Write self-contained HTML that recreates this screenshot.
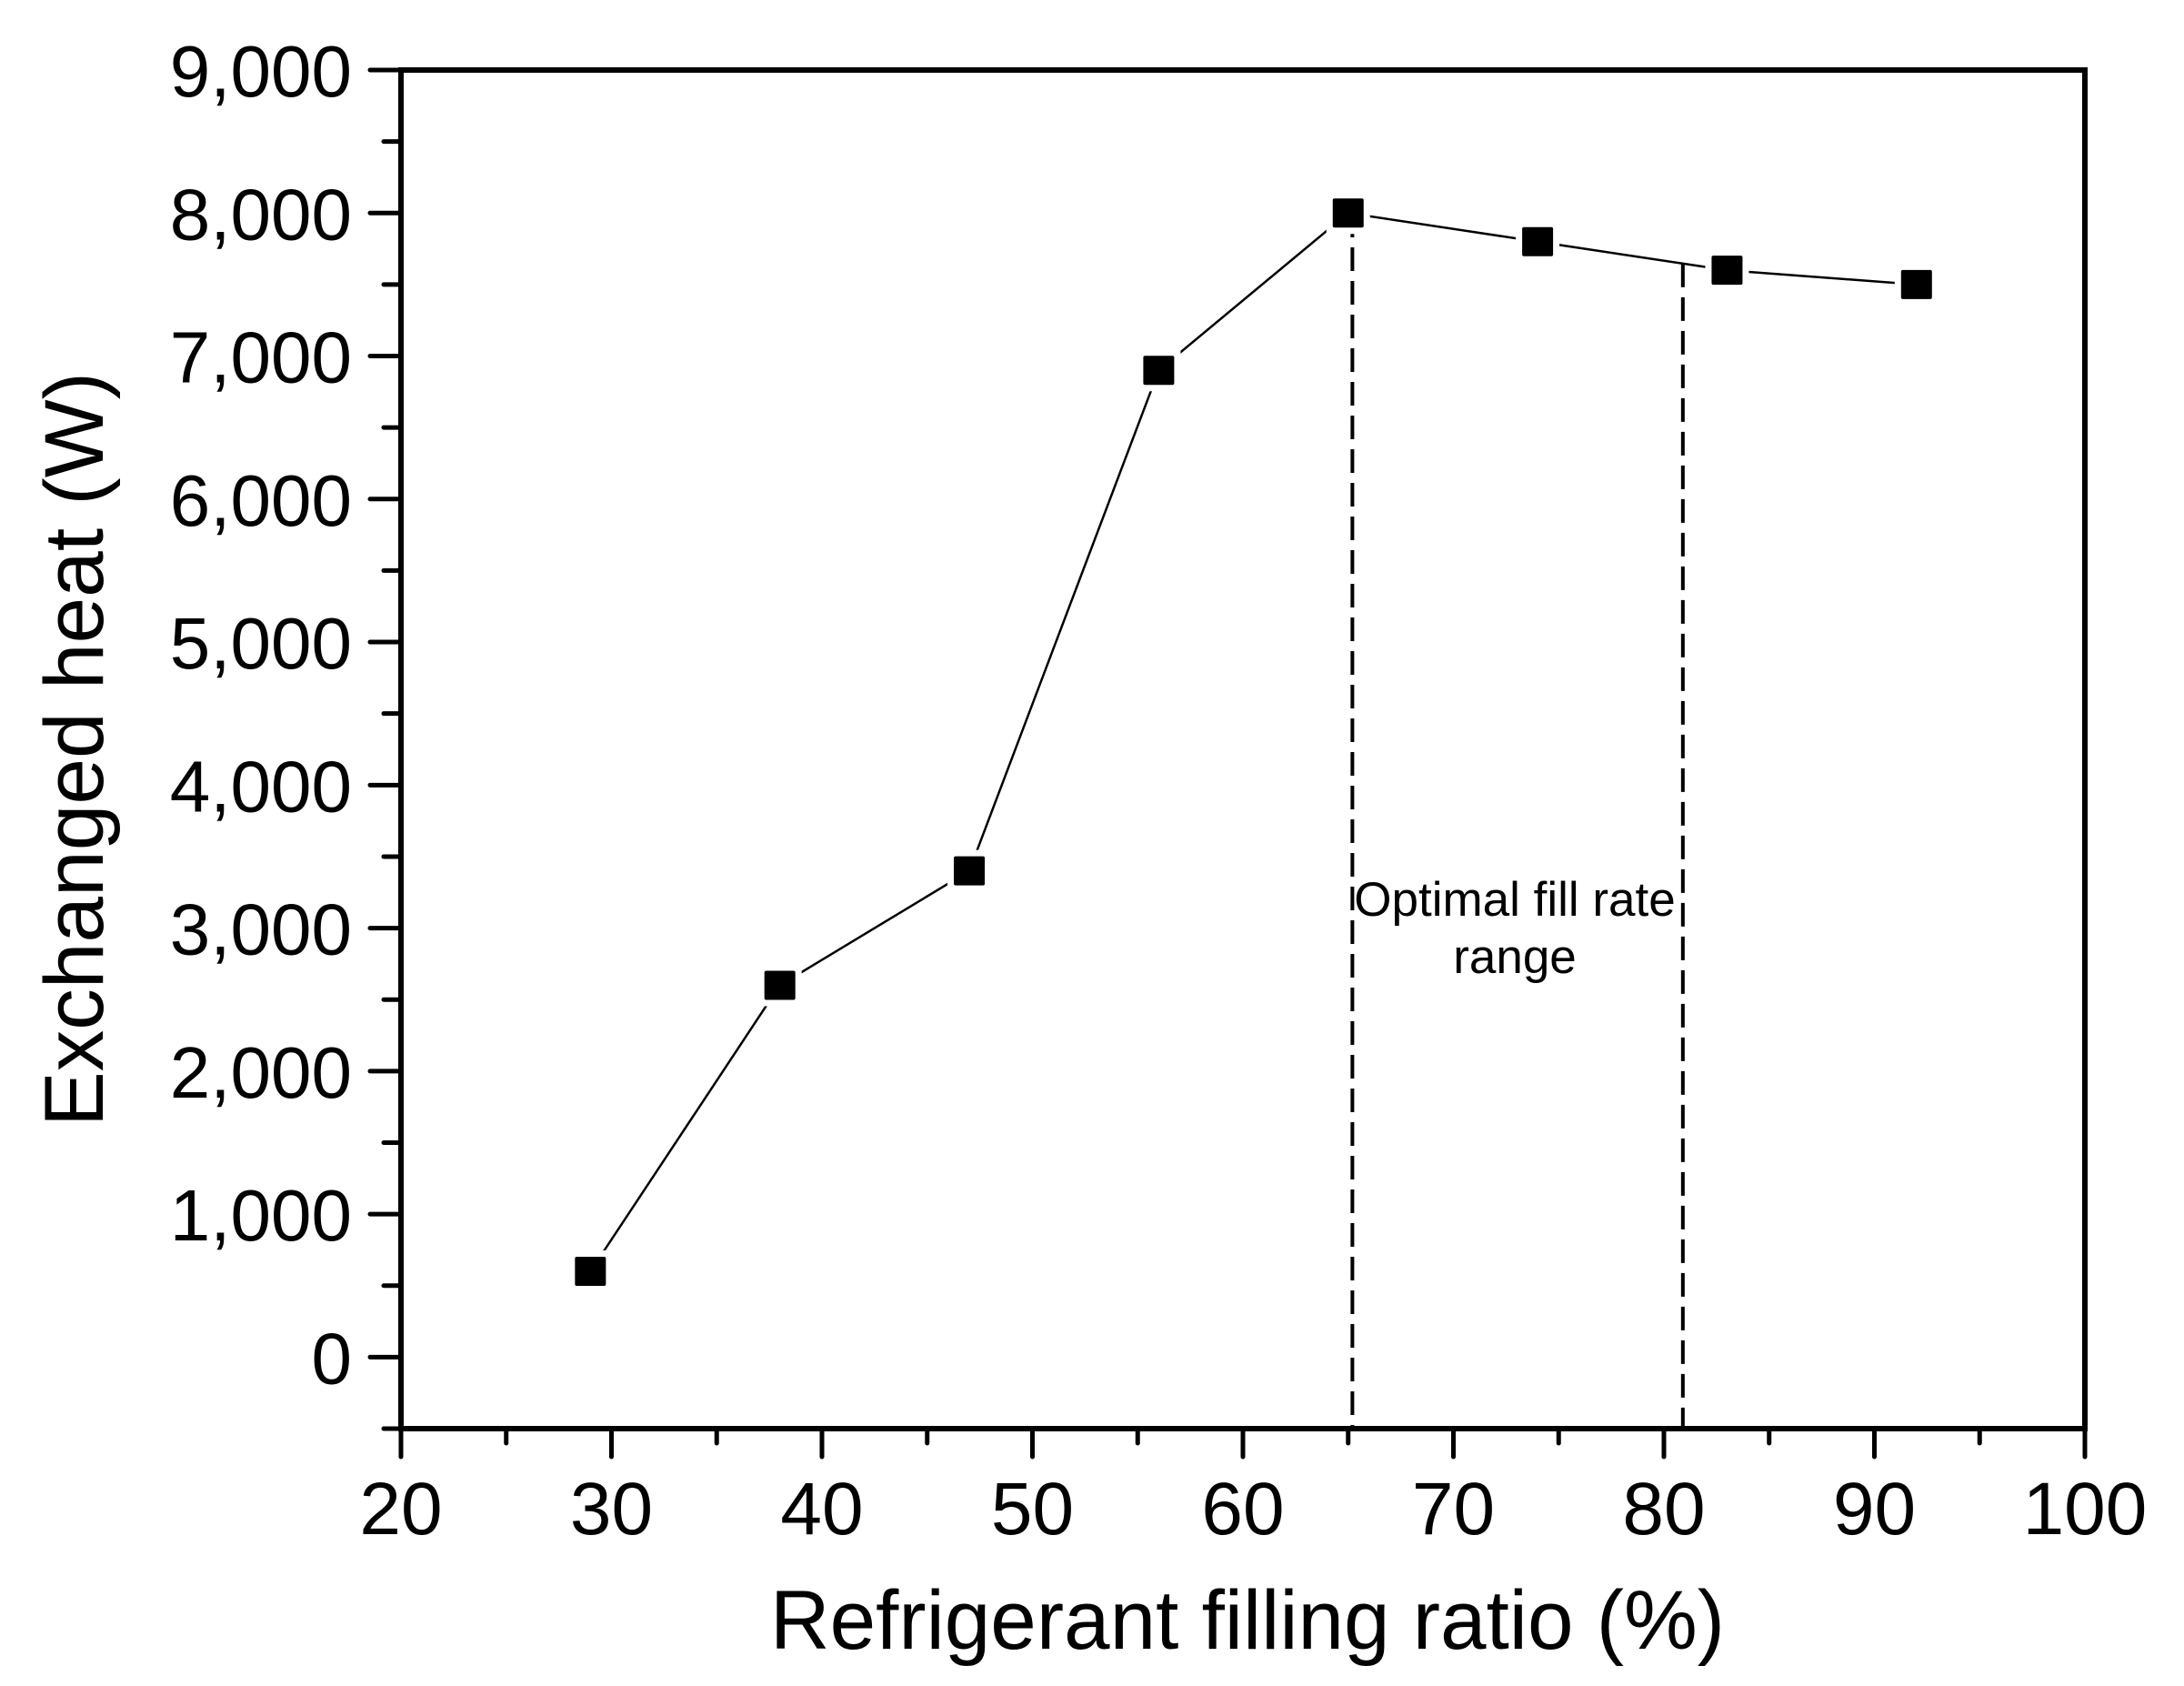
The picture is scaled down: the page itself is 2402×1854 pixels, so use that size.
<!DOCTYPE html>
<html><head><meta charset="utf-8"><style>html,body{margin:0;padding:0;background:#fff}svg{display:block}</style></head>
<body>
<svg id="chart" width="2402" height="1854" viewBox="0 0 2402 1854" xmlns="http://www.w3.org/2000/svg" font-family="'Liberation Sans', sans-serif"></svg>
<script>
const xValues = [29, 38, 47, 56, 65, 74, 83, 92];
const yValues = [600, 2600, 3400, 6900, 8000, 7800, 7600, 7500];
const xTicks = [20, 30, 40, 50, 60, 70, 80, 90, 100];
const yTicks = [0, 1000, 2000, 3000, 4000, 5000, 6000, 7000, 8000, 9000];
const yTickLabels = ["0", "1,000", "2,000", "3,000", "4,000", "5,000", "6,000", "7,000", "8,000", "9,000"];
const rangeBounds = [65.2, 80.9];

const X0 = 441, X1 = 2293, Y0 = 1571, Y1 = 77;
const xMin = 20, xMax = 100, yMin = -500, yMax = 9000;
const sx = v => X0 + (v - xMin) / (xMax - xMin) * (X1 - X0);
const sy = v => Y0 - (v - yMin) / (yMax - yMin) * (Y0 - Y1);
const svg = document.getElementById('chart');
const NS = 'http://www.w3.org/2000/svg';
function mk(tag, attrs, parent) {
  const e = document.createElementNS(NS, tag);
  for (const k in attrs) e.setAttribute(k, attrs[k]);
  (parent || svg).appendChild(e);
  return e;
}
function interp(x) {
  for (let i = 0; i < xValues.length - 1; i++) {
    if (x >= xValues[i] && x <= xValues[i + 1]) {
      const t = (x - xValues[i]) / (xValues[i + 1] - xValues[i]);
      return yValues[i] + t * (yValues[i + 1] - yValues[i]);
    }
  }
  return yValues[yValues.length - 1];
}

// dashed range lines
rangeBounds.forEach((b, i) => {
  const l = mk('line', {x1: sx(b), x2: sx(b), y1: sy(interp(b)), y2: Y0, stroke: '#000', 'stroke-width': 4, 'stroke-dasharray': '26 11'});
  
  
});

// series line
const pts = xValues.map((x, i) => sx(x) + ',' + sy(yValues[i])).join(' ');
const pl = mk('polyline', {points: pts, fill: 'none', stroke: '#000', 'stroke-width': 2.5});



// markers
xValues.forEach((x, i) => {
  const cx = sx(x), cy = sy(yValues[i]);
  const g = mk('rect', {x: cx - 24, y: cy - 23, width: 48, height: 46, fill: '#fff'});
  
  
  const r = mk('rect', {x: cx - 17, y: cy - 16, width: 34, height: 32, fill: '#000', rx: 2});
  
  
});

// axes frame
const fr = mk('rect', {x: X0, y: Y1, width: X1 - X0, height: Y0 - Y1, fill: 'none', stroke: '#000', 'stroke-width': 6});



// y ticks
for (let v = yMin; v <= yMax; v += 500) {
  const major = v % 1000 === 0;
  const t = mk('line', {x1: X0 - (major ? 34 : 19), x2: X0, y1: sy(v), y2: sy(v), stroke: '#000', 'stroke-width': 5, 'stroke-linecap': 'round'});
  
  
}
yTicks.forEach((v, i) => {
  const t = mk('text', {x: 387, y: sy(v) + 29, 'font-size': 80, 'text-anchor': 'end', fill: '#000'});
  t.textContent = yTickLabels[i];
  
  
});
// x ticks
for (let v = xMin; v <= xMax; v += 5) {
  const major = v % 10 === 0;
  const t = mk('line', {x1: sx(v), x2: sx(v), y1: Y0, y2: Y0 + (major ? 31 : 16), stroke: '#000', 'stroke-width': 5, 'stroke-linecap': 'round'});
  
  
}
xTicks.forEach(v => {
  const t = mk('text', {x: sx(v), y: 1687, 'font-size': 82, 'text-anchor': 'middle', fill: '#000'});
  t.textContent = String(v);
  
  
});

// axis titles
const xt = mk('text', {x: 1372, y: 1813, 'font-size': 92, 'text-anchor': 'middle', fill: '#000', textLength: 1050, lengthAdjust: 'spacingAndGlyphs'});
xt.textContent = 'Refrigerant filling ratio (%)';


const yt = mk('text', {x: 0, y: 0, 'font-size': 92, 'text-anchor': 'middle', fill: '#000', transform: 'translate(113,824) rotate(-90)', textLength: 830, lengthAdjust: 'spacingAndGlyphs'});
yt.textContent = 'Exchanged heat (W)';



// annotation
const a1 = mk('text', {x: 1666, y: 1007, 'font-size': 53, 'text-anchor': 'middle', fill: '#000'});
a1.textContent = 'Optimal fill rate';


const a2 = mk('text', {x: 1666, y: 1070, 'font-size': 53, 'text-anchor': 'middle', fill: '#000'});
a2.textContent = 'range';


</script>
</body></html>
